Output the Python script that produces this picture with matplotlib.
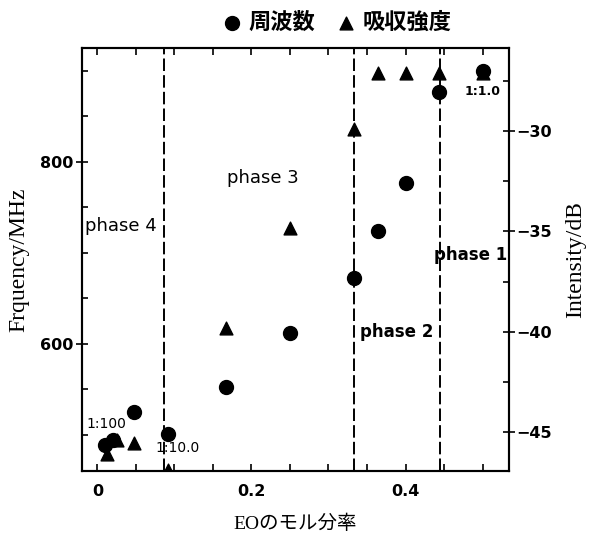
import matplotlib
matplotlib.use("Agg")
import matplotlib.pyplot as plt
from matplotlib.ticker import MultipleLocator, FixedLocator
from matplotlib.font_manager import FontProperties

plt.rcParams['lines.scale_dashes'] = False

# EO mole fraction vs. resonance frequency (left axis)
freq_x = [0.010, 0.020, 0.048, 0.091, 0.167, 0.250, 0.333, 0.364, 0.400, 0.444, 0.500]
freq_mhz = [489, 494, 525, 501, 552, 612, 672, 724, 777, 877, 900]

# EO mole fraction vs. absorption intensity (right axis)
int_x = [0.012, 0.025, 0.048, 0.091, 0.167, 0.250, 0.333, 0.364, 0.400, 0.444, 0.500]
int_db = [-46.1, -45.4, -45.55, -46.9, -39.8, -34.85, -29.9, -27.1, -27.1, -27.1, -27.1]

# phase boundaries
boundaries = [0.0864, 0.333, 0.445]

# phase labels: (text, x, freq-y, weight, alignment)
phase_labels = [
    ("phase 4", -0.016, 729, "normal", "left"),
    ("phase 3", 0.215, 782, "normal", "center"),
    ("phase 2", 0.389, 613, "bold", "center"),
    ("phase 1", 0.484, 697, "bold", "center"),
]
# molar ratio labels
ratio_labels = [
    ("1:100", 0.011, 512, "normal"),
    ("1:10.0", 0.104, 485, "normal"),
    ("1:1.0", 0.500, 877, "bold"),
]

W, H = 596, 541
fig = plt.figure(figsize=(W / 100, H / 100), dpi=100)
ax = fig.add_axes([82 / W, 1 - 471 / H, (509 - 82) / W, (471 - 48) / H])
ax2 = ax.twinx()

ax.set_xlim(-0.0201, 0.5344)
ax.set_ylim(460, 925)
ax2.set_ylim(-46.94, -25.86)

for b in boundaries:
    ax.axvline(b, color="black", lw=1.4, dashes=(9, 3), zorder=1)

circ = ax.scatter(freq_x, freq_mhz, s=100, marker="o", color="black", zorder=3)
tri = ax2.scatter(int_x, int_db, s=85, marker="^", color="black", zorder=3)

for txt, x, y, w, ha in phase_labels:
    ax.text(x, y, txt, fontsize=13 if w == "normal" else 12, fontweight=w,
            ha=ha, va="center", family="DejaVu Sans", zorder=4)
for txt, x, y, w in ratio_labels:
    ax.text(x, y, txt, fontsize=10 if w == "normal" else 9, fontweight=w,
            ha="center", va="center", family="DejaVu Sans", zorder=4)

# ticks
ax.xaxis.set_major_locator(FixedLocator([0, 0.2, 0.4]))
ax.xaxis.set_minor_locator(MultipleLocator(0.05))
ax.yaxis.set_major_locator(MultipleLocator(200))
ax.yaxis.set_minor_locator(MultipleLocator(50))
ax2.yaxis.set_major_locator(MultipleLocator(5))
ax2.yaxis.set_minor_locator(MultipleLocator(2.5))
ax.set_xticklabels(["0", "0.2", "0.4"])

ax.tick_params(axis="x", which="both", direction="in", top=True, length=5, width=1.2, pad=9)
ax.tick_params(axis="y", which="major", direction="inout", length=8, width=1.2, pad=2)
ax.tick_params(axis="y", which="minor", direction="in", length=4, width=1.2)
ax2.tick_params(axis="y", which="major", direction="inout", length=8, width=1.2, pad=1)
ax2.tick_params(axis="y", which="minor", direction="in", length=4, width=1.2)

tick_font = FontProperties(family="DejaVu Sans", weight="bold", size=11.5)
for lab in ax.get_xticklabels() + ax.get_yticklabels() + ax2.get_yticklabels():
    lab.set_fontproperties(tick_font)

for a in (ax, ax2):
    for sp in a.spines.values():
        sp.set_linewidth(1.5)

ax.set_ylabel("Frquency/MHz", family="Liberation Serif", fontsize=17, labelpad=8)
ax2.set_ylabel("Intensity/dB", family="Liberation Serif", fontsize=17, labelpad=10)
ax.set_xlabel("EOのモル分率", family=["Liberation Serif", "Noto Sans CJK JP"],
              fontsize=14, labelpad=12)

fig.legend([circ, tri], ["周波数", "吸収強度"], loc="center",
           bbox_to_anchor=(0.565, 0.958), ncol=2, frameon=False,
           prop=FontProperties(family="Noto Sans CJK JP", weight="bold", size=16),
           handlelength=0.9, handletextpad=0.3, columnspacing=0.9, scatterpoints=1)

fig.savefig("out.png", dpi=100)
